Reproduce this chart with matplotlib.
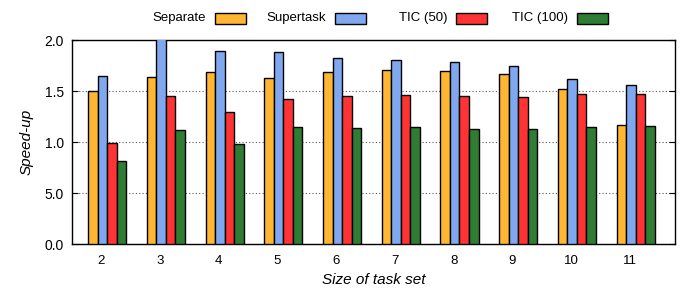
import matplotlib
matplotlib.use("Agg")
import matplotlib.pyplot as plt
import numpy as np
from matplotlib.patches import Rectangle

plt.rcParams['font.family'] = ['Liberation Sans', 'DejaVu Sans']

# data
task_sizes = [2, 3, 4, 5, 6, 7, 8, 9, 10, 11]
separate = [1.50, 1.64, 1.69, 1.63, 1.69, 1.71, 1.70, 1.67, 1.52, 1.17]
supertask = [1.65, 2.02, 1.89, 1.88, 1.82, 1.80, 1.78, 1.75, 1.62, 1.56]
tic50 = [0.99, 1.45, 1.29, 1.42, 1.45, 1.46, 1.45, 1.44, 1.47, 1.47]
tic100 = [0.81, 1.12, 0.98, 1.15, 1.14, 1.15, 1.13, 1.13, 1.15, 1.16]
series_names = ["Separate", "Supertask", "TIC (50)", "TIC (100)"]
colors = ["#ffb733", "#80a8f0", "#ff3333", "#2e7d32"]
ytick_vals = [0.0, 0.5, 1.0, 1.5, 2.0]
ytick_labels = ["0.0", "5.0", "1.0", "1.5", "2.0"]

fig = plt.figure(figsize=(6.92, 2.91), dpi=100)
ax = fig.add_axes([0.104, 0.1615, 0.8714, 0.701])

x = np.array(task_sizes, dtype=float)
w = 0.162
offset = 0.1
all_series = [separate, supertask, tic50, tic100]
for i, (vals, col) in enumerate(zip(all_series, colors)):
    ax.bar(x + offset + (i - 1.5) * w, vals, width=w, color=col,
           edgecolor="black", linewidth=1.0, zorder=3)

ax.set_xlim(1.5, 11.77)
ax.set_ylim(0, 2.0)
ax.set_xticks(task_sizes)
ax.set_xticklabels([str(t) for t in task_sizes], fontsize=9.5)
ax.set_yticks(ytick_vals)
ax.set_yticklabels(ytick_labels, fontsize=10)
ax.tick_params(axis="x", length=0, pad=8)
ax.tick_params(axis="y", direction="in", length=4, right=True, pad=6)
ax.yaxis.grid(True, linestyle=(0, (1, 2)), color="#555555", linewidth=0.8, zorder=0)
for sp in ax.spines.values():
    sp.set_linewidth(1.0)

ax.set_xlabel("Size of task set", fontsize=11, style="italic", labelpad=4)
ax.set_ylabel("Speed-up", fontsize=11, style="italic", labelpad=8)

# gnuplot-style key on top: right-aligned text then a box
box_left = [215, 335, 456, 577]
W, H = 692.0, 291.0
for name, col, bx in zip(series_names, colors, box_left):
    fig.text((bx - 9) / W, 1 - 18.5 / H, name, ha="right", va="center", fontsize=9.5)
    fig.add_artist(Rectangle((bx / W, 1 - 23.5 / H), 31 / W, 11 / H,
                             transform=fig.transFigure, facecolor=col,
                             edgecolor="black", linewidth=1.0))

fig.savefig("out.png", dpi=100)
